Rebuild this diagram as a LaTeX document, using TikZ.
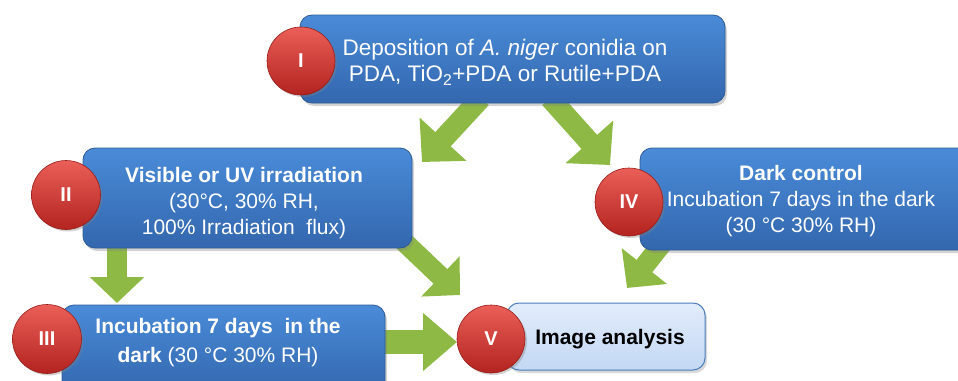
\documentclass[tikz,border=0pt]{standalone}
\usepackage{fontspec}
\setmainfont{Liberation Sans}
\usetikzlibrary{shadows,arrows.meta,calc}
\definecolor{boxtop}{HTML}{4A8BD8}
\definecolor{boxbot}{HTML}{3367AE}
\definecolor{boxedge}{HTML}{2D5A96}
\definecolor{redtop}{HTML}{EA5F58}
\definecolor{redbot}{HTML}{B3231F}
\definecolor{rededge}{HTML}{951C18}
\definecolor{agreen}{HTML}{8DB944}
\definecolor{ltop}{HTML}{E2ECFB}
\definecolor{lbot}{HTML}{C3D8F4}
\definecolor{ledge}{HTML}{4A7EBB}
\begin{document}
\begin{tikzpicture}[x=1pt,y=-1pt,
  bluebox/.style={rectangle, rounded corners=12pt, top color=boxtop, bottom color=boxbot,
    draw=boxedge, line width=0.8pt, drop shadow={shadow xshift=2pt, shadow yshift=-3pt, opacity=0.35}},
  lightbox/.style={rectangle, rounded corners=12pt, top color=ltop, bottom color=lbot,
    draw=ledge, line width=1pt, drop shadow={shadow xshift=2pt, shadow yshift=-3pt, opacity=0.3}},
  numball/.style={circle, inner sep=0pt, top color=redtop, bottom color=redbot, draw=rededge,
    line width=0.6pt, text=white, font=\fontsize{20}{22}\selectfont\bfseries,
    drop shadow={shadow xshift=2pt, shadow yshift=-2pt, opacity=0.35}},
  wtxt/.style={text=white, align=center, font=\fontsize{21}{26}\selectfont},
  garrow/.style={draw=agreen, line width=#1},
]
\useasboundingbox (0,0) rectangle (958,380);

% arrow coordinates
\coordinate (a1s) at (481,98);
\coordinate (a1e) at (422,162);
\coordinate (a2s) at (550,98);
\coordinate (a2e) at (610,165);
\coordinate (a3s) at (117,240);
\coordinate (a3e) at (117,303);
\coordinate (a4s) at (400,238);
\coordinate (a4e) at (460,295);
\coordinate (a5s) at (378,342);
\coordinate (a5e) at (457,342);
\coordinate (a6s) at (665,240);
\coordinate (a6e) at (627,288);

\draw[garrow=21pt, -{Triangle[length=31pt,width=62pt]}] (a1s) -- (a1e);
\draw[garrow=21pt, -{Triangle[length=31pt,width=62pt]}] (a2s) -- (a2e);
\draw[garrow=20pt, -{Triangle[length=26pt,width=53pt]}] (a3s) -- (a3e);
\draw[garrow=20pt, -{Triangle[length=27pt,width=54pt]}] (a4s) -- (a4e);
\draw[garrow=24pt, -{Triangle[length=34pt,width=56pt]}] (a5s) -- (a5e);
\draw[garrow=20pt, -{Triangle[length=28pt,width=56pt]}] (a6s) -- (a6e);

% boxes
\node[bluebox, minimum width=425pt, minimum height=88pt] (b1) at (512.5,59) {};
\node[bluebox, minimum width=329pt, minimum height=100pt] (b2) at (247.5,198) {};
\node[bluebox, minimum width=330pt, minimum height=102pt] (b4) at (805,199) {};
\node[bluebox, minimum width=323pt, minimum height=88pt] (b3) at (223.5,349) {};
\node[lightbox, minimum width=198pt, minimum height=67pt] (b5) at (606,336.5) {};

% texts
\node[wtxt, font=\fontsize{22.5}{26}\selectfont] (t1) at (505,62)
  {Deposition of \textit{A. niger} conidia on\\PDA, TiO\textsubscript{2}+PDA or Rutile+PDA};
\node[wtxt] (t2) at (244,203)
  {\textbf{Visible or UV irradiation}\\(30°C, 30\% RH,\\100\% Irradiation\ \ flux)};
\node[wtxt] (t4) at (801,201)
  {\textbf{Dark control}\\Incubation 7 days in the dark\\(30 °C 30\% RH)};
\node[wtxt, font=\fontsize{21}{29}\selectfont] (t3) at (218,343)
  {\textbf{Incubation 7 days\ \ in the}\\\textbf{dark} (30 °C 30\% RH)};
\node[font=\fontsize{21}{26}\selectfont\bfseries, text=black] (t5) at (610,339) {Image analysis};

% numbered balls
\node[numball, minimum size=68pt] (c1) at (301,61) {I};
\node[numball, minimum size=69pt] (c2) at (66,195) {II};
\node[numball, minimum size=68pt] (c4) at (629,202) {IV};
\node[numball, minimum size=69pt] (c3) at (47,339) {III};
\node[numball, minimum size=68pt] (c5) at (491,339) {V};
\end{tikzpicture}
\end{document}
